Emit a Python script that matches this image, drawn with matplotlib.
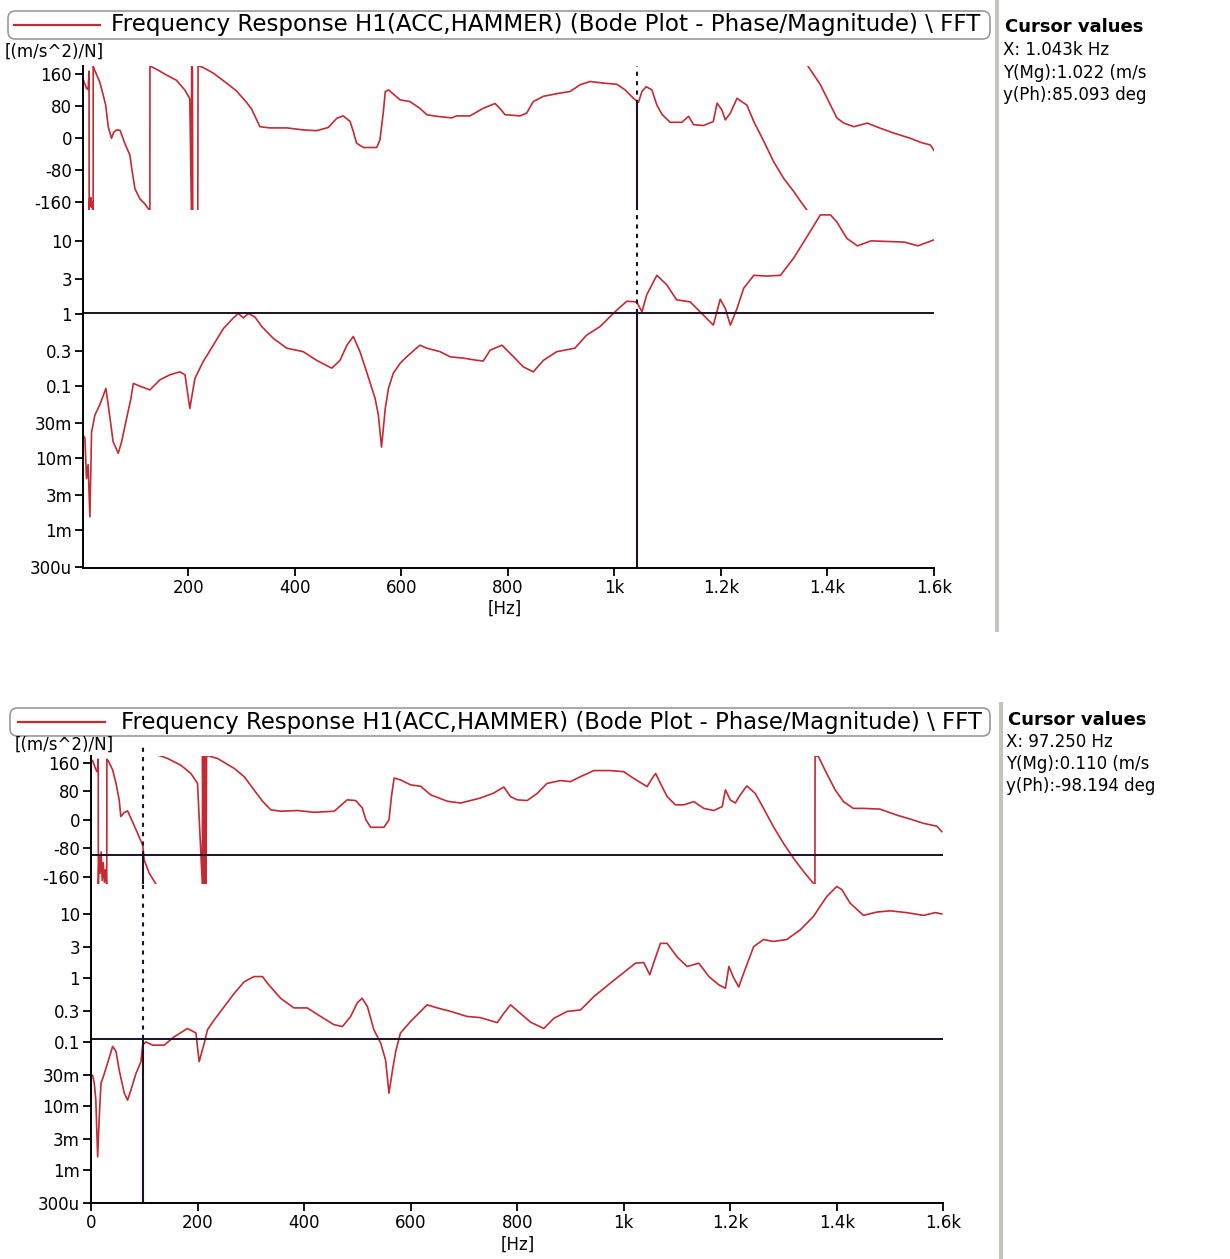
import numpy as np
import matplotlib
matplotlib.use("Agg")
import matplotlib.pyplot as plt
from matplotlib.patches import FancyBboxPatch
from matplotlib.lines import Line2D
from matplotlib.ticker import FixedLocator, NullLocator

W, H = 1230, 1259
nan = np.nan

# ---------------- text / ticks ----------------
legend_title = "Frequency Response H1(ACC,HAMMER) (Bode Plot - Phase/Magnitude) \\ FFT"
unit_label = "[(m/s^2)/N]"
x_label = "[Hz]"
phase_ticks = [160, 80, 0, -80, -160]
phase_tick_labels = ["160", "80", "0", "-80", "-160"]
mag_ticks = [10, 3, 1, 0.3, 0.1, 0.03, 0.01, 0.003, 0.001, 0.0003]
mag_tick_labels = ["10", "3", "1", "0.3", "0.1", "30m", "10m", "3m", "1m", "300u"]
freq_ticks_top = [200, 400, 600, 800, 1000, 1200, 1400, 1600]
freq_labels_top = ["200", "400", "600", "800", "1k", "1.2k", "1.4k", "1.6k"]
freq_ticks_bot = [0, 200, 400, 600, 800, 1000, 1200, 1400, 1600]
freq_labels_bot = ["0", "200", "400", "600", "800", "1k", "1.2k", "1.4k", "1.6k"]

# ---------------- cursor values ----------------
top_cursor_x = 1043.0
top_cursor_mag = 1.022
top_cursor_phase = 85.093
top_cursor_text = ["X: 1.043k Hz", "Y(Mg):1.022 (m/s", "y(Ph):85.093 deg"]
bot_cursor_x = 97.25
bot_cursor_mag = 0.110
bot_cursor_phase = -98.194
bot_cursor_text = ["X: 97.250 Hz", "Y(Mg):0.110 (m/s", "y(Ph):-98.194 deg"]

# ---------------- top panel data ----------------
top_phase_f = [3, 9, 12, 13.8, 14, 15, 16, 17, 18, 19, 20.5, 21.5, 21.6, 24.2, 33.8, 40, 45,
               49.8, 56, 60, 65.5, 72, 81, 90.5, 94, 100, 109, 118.6, 125, 128, 128.2, 131,
               144, 159.4, 178, 194, 203, 206, 206.5, 208, 208.5, nan, 218, 218.5, 222, 228,
               247, 272, 291, 310, 319, 334.7, 353, 385, 416, 441, 463, 479, 491, 504, 510,
               516, 529, 554, 560, 566.5, 570, 576, 598, 616, 635, 648, 666.5, 694.7, 704,
               729, 754, 776, 785, 795, 823, 835.5, 848, 867, 898, 917, 936, 954.7, 979.7,
               1005, 1020.5, 1036, 1045.5, 1052, 1060, 1070.7, 1080, 1089.5, 1105, 1127,
               1139.5, 1149, 1167.6, 1186, 1193, 1202, 1208.6, 1218, 1230.5, 1249, 1262,
               1281, 1299, 1318, 1337, 1350, 1362, nan, 1364, 1387, 1402.6, 1418, 1431,
               1450, 1475, 1500, 1525, 1556, 1575, 1594, 1600]
top_phase = [146, 125, 122, 168, -180, -150, -165, -148, -172, -158, -178, -180, 180, 171,
             141, 110, 83, 29, 0, 15, 21, 20, -13, -42, -76, -126, -151, -164, -176, -180,
             180, 179, 170, 158, 145, 120, 99, -180, 180, 172, -180, nan, -180, 180, 180,
             177, 163, 138, 118, 89, 73, 29, 26, 26, 21, 19, 27, 50, 56, 42, 17, -12, -23,
             -23, -4, 67, 117, 121, 96, 92, 75, 59, 55, 51, 56, 56, 75, 87, 75, 59, 56, 63,
             92, 105, 113, 117, 134, 142, 138, 135, 121, 100, 90, 117, 129, 121, 83, 60,
             40, 40, 55, 34, 32, 42, 88, 71, 46, 63, 100, 83, 42, -8, -58, -100, -133,
             -158, -180, nan, 180, 134, 92, 51, 38, 29, 38, 25, 13, 0, -10, -17, -30]

top_mag_f = [3, 6, 9, 12, 15.4, 18.5, 24.8, 34, 45.4, 49.8, 59, 68.6, 75, 84.3, 92.4, 97,
             109.3, 128, 147, 165.6, 184.4, 194, 203, 212.6, 228, 247, 266, 285, 294, 303.6,
             313, 325.5, 338, 360, 385, 416, 441, 469.5, 485, 498, 510, 522.5, 535, 551,
             557, 563, 570, 576, 585, 598, 610, 635, 648, 673, 692, 717, 742, 754, 767, 789,
             811, 829, 848, 867, 892, 926, 948, 973.5, 1001.5, 1023.5, 1042, 1052, 1061,
             1080, 1098.5, 1117, 1142.5, 1161, 1186, 1199, 1208.6, 1218, 1230.5, 1243, 1262,
             1287, 1312, 1337, 1362, 1387, 1406, 1418, 1437, 1456.6, 1482, 1513.5, 1545,
             1570, 1600]
top_mag = [0.0204, 0.0186, 0.0051, 0.0080, 0.0015, 0.0224, 0.039, 0.054, 0.091, 0.054,
           0.0166, 0.0115, 0.0166, 0.035, 0.066, 0.107, 0.098, 0.087, 0.12, 0.141, 0.155,
           0.141, 0.048, 0.126, 0.214, 0.363, 0.617, 0.87, 1.0, 0.87, 1.0, 0.89, 0.66, 0.45,
           0.33, 0.295, 0.224, 0.174, 0.224, 0.363, 0.48, 0.295, 0.155, 0.066, 0.039, 0.014,
           0.048, 0.091, 0.148, 0.204, 0.25, 0.363, 0.33, 0.295, 0.25, 0.24, 0.224, 0.219,
           0.31, 0.363, 0.25, 0.182, 0.155, 0.224, 0.295, 0.33, 0.5, 0.66, 1.06, 1.48, 1.45,
           1.06, 1.82, 3.39, 2.51, 1.55, 1.45, 1.06, 0.69, 1.58, 1.17, 0.69, 1.17, 2.24,
           3.39, 3.31, 3.39, 5.9, 11.7, 23.4, 23.4, 18.6, 11.0, 8.7, 10.2, 10.0, 9.8, 8.7,
           10.5]

# ---------------- bottom panel data ----------------
bot_phase_f = [3, 9.4, 12, 13.6, 13.8, 15, 17, 19, 21, 23, 25, 27, 29, 29.6, 29.8, 32.5,
               40.6, 47, 53, 56, 62, 68.7, 78, 87.5, 97, 100, 109.4, 121.9, nan, 128, 131,
               143.7, 168.7, 187.5, 200, 209, 209.5, 211, 212, 213.5, 214.5, 216, 217, 218.7,
               237.5, 269, 287.5, 306, 322, 337.5, 356, 387.5, 419, 456.5, 481, 497, 509.4,
               516, 525, 550, 559.4, 564, 569, 581, 600, 619, 637.5, 669, 694, 731, 756, 775,
               787.5, 800, 818.8, 837.6, 856, 881, 900, 919, 944, 975, 1000, 1019, 1044,
               1053.4, 1060, 1069, 1081.6, 1097, 1113, 1131.6, 1150.5, 1169, 1185, 1191,
               1200, 1209.5, 1219, 1231, 1247, 1262.6, 1281, 1300, 1319, 1337.6, 1356, 1359,
               1359.3, 1365.6, 1381, 1397, 1412.6, 1431, 1450, 1481, 1513, 1538, 1563, 1588,
               1597]
bot_phase = [166, 140, 135, 170, -180, -100, -150, -90, -170, -120, -175, -140, -180, -180,
             170, 165, 140, 102, 55, 9, 20, 25, -6, -38, -71, -113, -150, -180, nan, 180,
             179, 172, 153, 130, 102, -180, 180, -180, 180, -180, 180, -180, 180, 180, 172,
             144, 121, 84, 52, 28, 24, 26, 21, 24, 56, 54, 33, 0, -21, -21, 0, 65, 117, 112,
             98, 94, 70, 52, 47, 61, 75, 92, 65, 56, 54, 74, 102, 110, 107, 121, 138, 138,
             135, 116, 93, 116, 130, 102, 65, 42, 42, 51, 32, 26, 37, 84, 56, 47, 70, 95, 74,
             32, -19, -66, -108, -145, -178, -180, 180, 177, 130, 84, 51, 32, 32, 30, 13, 2,
             -10, -18, -33]

bot_mag_f = [3.1, 6.25, 9, 12.5, 15.6, 18.75, 25, 31.2, 40.6, 47, 53, 62.5, 68.7, 75, 84.4,
             93.7, 97, 103, 115.6, 137.5, 156, 181, 197, 203, 212.5, 218.7, 231, 250, 269,
             287.5, 306, 322, 331, 356, 381, 406, 431, 456, 472, 487.5, 500, 509, 519, 531,
             544, 553, 559.4, 566, 572, 581, 600, 631, 650, 675, 706, 731, 762.5, 775, 787.5,
             806, 825, 850, 869, 894, 919, 944, 975, 1006, 1022, 1037.6, 1049, 1056, 1069,
             1081.6, 1100, 1119, 1141, 1160, 1178.6, 1191, 1197.5, 1206.6, 1216, 1225, 1244,
             1262.6, 1281, 1306, 1331, 1356, 1381, 1400, 1409.6, 1425, 1450, 1475, 1500,
             1531, 1563, 1585, 1597]
bot_mag = [0.030, 0.0224, 0.0126, 0.0016, 0.0069, 0.0224, 0.032, 0.047, 0.085, 0.071, 0.036,
           0.0158, 0.0123, 0.0178, 0.032, 0.049, 0.089, 0.100, 0.089, 0.089, 0.12, 0.162,
           0.138, 0.049, 0.095, 0.155, 0.219, 0.355, 0.575, 0.87, 1.05, 1.05, 0.83, 0.48,
           0.34, 0.34, 0.25, 0.186, 0.174, 0.25, 0.41, 0.48, 0.355, 0.155, 0.095, 0.052,
           0.0158, 0.036, 0.071, 0.138, 0.209, 0.38, 0.34, 0.30, 0.25, 0.24, 0.20, 0.28,
           0.38, 0.28, 0.204, 0.162, 0.234, 0.30, 0.316, 0.51, 0.83, 1.33, 1.7, 1.74, 1.12,
           1.7, 3.47, 3.47, 2.14, 1.51, 1.7, 1.05, 0.78, 0.69, 1.51, 1.0, 0.72, 1.17, 3.09,
           3.98, 3.72, 3.98, 5.6, 9.1, 18.6, 26.9, 24.0, 14.8, 9.5, 10.7, 11.2, 10.5, 9.5,
           10.5, 10.0]

# ---------------- style ----------------
CURVE = "#c32a33"
CURSOR = "#1e1026"
FONT = "DejaVu Sans"
FS = 12

fig = plt.figure(figsize=(W / 100, H / 100), dpi=100)
fig.patch.set_facecolor("white")


def rect(l, t, r, b):
    return [l / W, 1 - b / H, (r - l) / W, (b - t) / H]


def fx(x):
    return x / W


def fy(y):
    return 1 - y / H


def style_axis(ax, bottom):
    for s in ["top", "right"]:
        ax.spines[s].set_visible(False)
    ax.spines["bottom"].set_visible(bottom)
    ax.spines["left"].set_linewidth(1.4)
    ax.spines["bottom"].set_linewidth(1.4)
    ax.tick_params(axis="y", direction="out", length=6, width=1.3, labelsize=FS,
                   pad=2, colors="black")
    ax.tick_params(axis="x", direction="out", length=6, width=1.3, labelsize=FS,
                   pad=2, colors="black", bottom=bottom, labelbottom=bottom)
    ax.patch.set_alpha(0)


def panel(geom, xlim, xticks, xlabels, pf, pv, mf, mv, mlim, cx, cm, cp, phase_hline,
          cursor_top):
    l, r, t, mid, b = geom
    axm = fig.add_axes(rect(l, mid, r, b))
    axp = fig.add_axes(rect(l, t, r, mid), sharex=axm)
    # phase
    axp.plot(pf, pv, color=CURVE, lw=1.2)
    axp.set_ylim(-180, 180)
    axp.yaxis.set_major_locator(FixedLocator(phase_ticks))
    axp.set_yticklabels(phase_tick_labels, family=FONT)
    style_axis(axp, False)
    # magnitude
    axm.plot(mf, mv, color=CURVE, lw=1.2)
    axm.set_yscale("log")
    axm.set_ylim(*mlim)
    axm.yaxis.set_major_locator(FixedLocator(mag_ticks))
    axm.yaxis.set_minor_locator(NullLocator())
    axm.set_yticklabels(mag_tick_labels, family=FONT)
    axm.set_xlim(*xlim)
    axm.xaxis.set_major_locator(FixedLocator(xticks))
    axm.set_xticklabels(xlabels, family=FONT)
    style_axis(axm, True)
    # cursor
    axp.plot([cx, cx], [cp, cursor_top], color=CURSOR, lw=1.5, ls=(0, (2, 2.5)),
             clip_on=False)
    axp.plot([cx, cx], [-180, cp], color=CURSOR, lw=1.5)
    axm.plot([cx, cx], [cm, mlim[1]], color=CURSOR, lw=1.5, ls=(0, (2, 2.5)))
    axm.plot([cx, cx], [mlim[0], cm], color=CURSOR, lw=1.5)
    axm.axhline(cm, color=CURSOR, lw=1.4)
    if phase_hline:
        axp.axhline(cp, color=CURSOR, lw=1.4)
    return axp, axm


# top panel: left, right, top, phase/mag boundary, bottom (pixels)
panel((83.3, 933.8, 66.3, 210.3, 568.3), (3, 1600), freq_ticks_top, freq_labels_top,
      top_phase_f, top_phase, top_mag_f, top_mag, (2.9e-4, 27.1),
      top_cursor_x, top_cursor_mag, top_cursor_phase, False, 180)
panel((91.0, 943.3, 755.6, 884.0, 1203.3), (0, 1600), freq_ticks_bot, freq_labels_bot,
      bot_phase_f, bot_phase, bot_mag_f, bot_mag, (3.0e-4, 29.4),
      bot_cursor_x, bot_cursor_mag, bot_cursor_phase, True, 203)


def legend_box(x0, x1, y0, y1, lx0, lx1, tx):
    box = FancyBboxPatch((fx(x0), fy(y1)), fx(x1) - fx(x0), fy(y0) - fy(y1),
                         boxstyle="round,pad=0,rounding_size=0.006",
                         transform=fig.transFigure, facecolor="white",
                         edgecolor="#9a9a9a", lw=1.2)
    fig.add_artist(box)
    yc = (y0 + y1) / 2
    fig.add_artist(Line2D([fx(lx0), fx(lx1)], [fy(yc), fy(yc)], color=CURVE, lw=1.6,
                          transform=fig.transFigure))
    t = fig.text(fx(tx), fy(yc), legend_title, fontsize=FS + 1, family=FONT,
                 va="center", ha="left")
    return t


t1 = legend_box(8, 990, 11, 39, 14, 100, 111)
t2 = legend_box(10, 990, 708, 736, 18, 105, 121)

fig.text(fx(5), fy(52), unit_label, fontsize=FS, family=FONT, va="center", ha="left")
fig.text(fx(15), fy(745), unit_label, fontsize=FS, family=FONT, va="center", ha="left")
fig.text(fx(505), fy(609), x_label, fontsize=FS, family=FONT, va="center", ha="center")
fig.text(fx(518), fy(1245), x_label, fontsize=FS, family=FONT, va="center", ha="center")

# cursor value panels
fig.text(fx(1005), fy(27), "Cursor values", fontsize=FS + 1, weight="bold", family=FONT,
         va="center", ha="left")
for i, s in enumerate(top_cursor_text):
    fig.text(fx(1003), fy(50 + 22.5 * i), s, fontsize=FS, family=FONT, va="center", ha="left")
fig.text(fx(1008), fy(720), "Cursor values", fontsize=FS + 1, weight="bold", family=FONT,
         va="center", ha="left")
for i, s in enumerate(bot_cursor_text):
    fig.text(fx(1006), fy(742 + 22 * i), s, fontsize=FS, family=FONT, va="center", ha="left")

# separators
fig.add_artist(Line2D([fx(997), fx(997)], [fy(0), fy(630)], color="#c4c4bc", lw=3,
                      transform=fig.transFigure))
fig.add_artist(Line2D([fx(1001), fx(1001)], [fy(704), fy(1259)], color="#c4c4bc", lw=3,
                      transform=fig.transFigure))

# fit legend text widths
fig.canvas.draw()
r = fig.canvas.get_renderer()
for t, target in ((t1, 868), (t2, 860)):
    w = t.get_window_extent(r).width
    t.set_fontsize(t.get_fontsize() * target / w)

fig.savefig("out.png", dpi=100, facecolor="white")
